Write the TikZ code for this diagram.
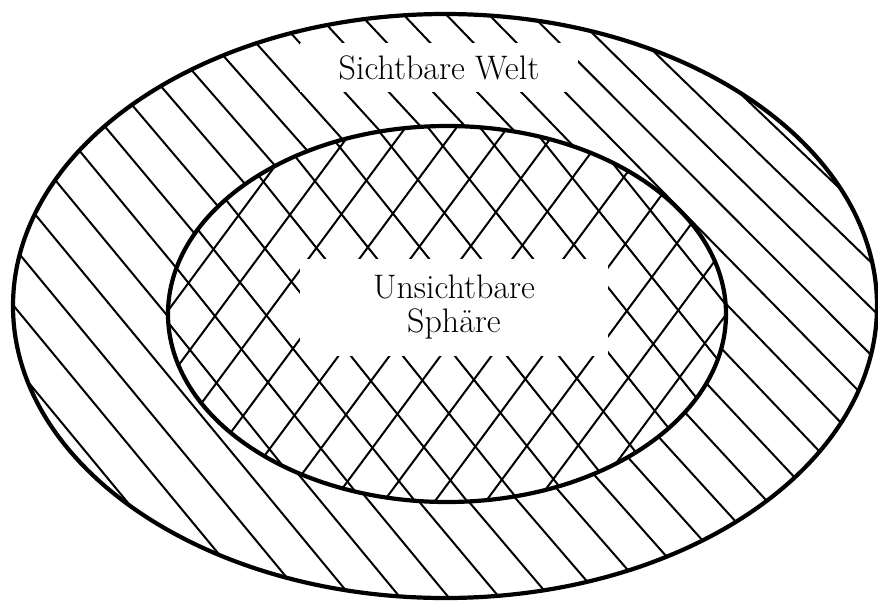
\documentclass[tikz,border=0pt]{standalone}
\usetikzlibrary{positioning}

\begin{document}
\begin{tikzpicture}[
  x=0.5pt, y=-0.5pt,
  rim/.style={draw=black, line width=2.1pt},
  hatch/.style={draw=black, line width=1pt},
  lbl/.style={fill=white, inner sep=0pt, align=center,
              font=\fontsize{17}{17}\selectfont},
]
\useasboundingbox (0,0) rectangle (878,601);

%% ---------- hatching: outer ring (slightly fanned) ----------
\begin{scope}[even odd rule]
  \clip (445,306) ellipse [x radius=432, y radius=292]
        (447,314) ellipse [x radius=279, y radius=188];
  \foreach \k in {-10,...,24} {
    \pgfmathsetmacro{\s}{1.21-0.016*max(\k-5,0)}
    \pgfmathsetmacro{\xa}{43+48.5*\k-400/\s}
    \pgfmathsetmacro{\xb}{43+48.5*\k+201/\s}
    \draw[hatch] (\xa,0) -- (\xb,601);
  }
\end{scope}

%% ---------- hatching: inner cross ----------
\begin{scope}
  \clip (447,314) ellipse [x radius=279, y radius=188];
  \foreach \k in {-10,...,12}
    \draw[hatch] ({282+52*\k-320},0) -- ++(481,601);
  \foreach \k in {-10,...,14}
    \draw[hatch] ({357+51*\k+296},0) -- ++(-445,601);
\end{scope}

%% ---------- labels ----------
\node[lbl, minimum width=139pt, minimum height=24.5pt] (welt) at (439,67.5)
  {Sichtbare Welt};
\node[lbl, minimum width=154pt, minimum height=48.5pt] (sphaere) at (454,307.5)
  {Unsichtbare\\Sphäre};

%% ---------- rims ----------
\draw[rim] (445,306) ellipse [x radius=432, y radius=292];
\draw[rim] (447,314) ellipse [x radius=279, y radius=188];

\end{tikzpicture}
\end{document}
